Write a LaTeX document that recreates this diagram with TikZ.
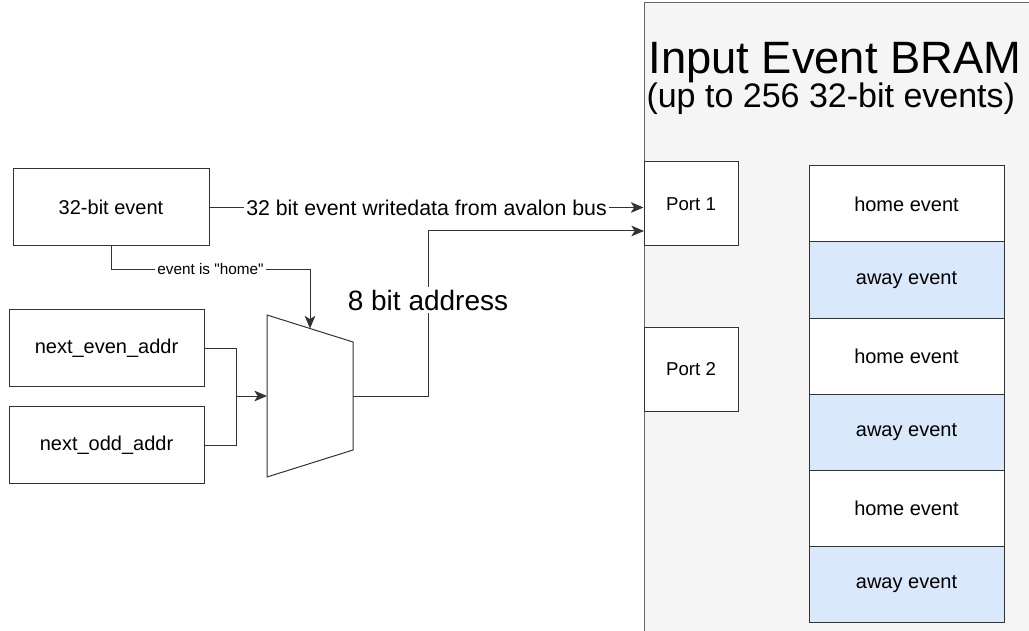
\documentclass[tikz,border=0pt]{standalone}
\usepackage{fontspec}
\setmainfont{Liberation Sans}[Ligatures=TeXOff]
\usetikzlibrary{arrows.meta}

\definecolor{edgegray}{HTML}{333333}
\definecolor{bramfill}{HTML}{F5F5F5}
\definecolor{bramline}{HTML}{666666}
\definecolor{awayfill}{HTML}{DAE8FC}

\tikzset{every picture/.style={line width=0.75pt}}
\tikzset{
  blockbox/.style={draw=edgegray, fill=white, inner sep=0pt, minimum width=146.25pt, minimum height=58pt, font=\fontsize{15}{18}\selectfont},
  portbox/.style={draw=edgegray, fill=white, inner sep=0pt, minimum width=70.5pt, minimum height=63pt, font=\fontsize{14}{17}\selectfont},
  rowbox/.style={draw=edgegray, inner sep=0pt, minimum width=146.25pt, minimum height=57pt, font=\fontsize{15}{18}\selectfont},
  wire/.style={draw=edgegray},
  arrowwire/.style={draw=edgegray, -{Stealth[length=9.5pt,width=8pt,inset=2.5pt]}},
  wirelabel/.style={fill=white, inner sep=2pt}
}

\begin{document}
\begin{tikzpicture}[x=0.75pt,y=0.75pt,yscale=-1,xscale=1]
%set diagram to 1029 x 631
\clip (0,0) rectangle (1029,631);

%Shape: BRAM container
\draw [draw=bramline, fill=bramfill] (644,3) rectangle (1040,640);

% Text Node
\node [anchor=base west, inner sep=0pt, font=\fontsize{34}{40}\selectfont] (title) at (648,74) {Input Event BRAM};
% Text Node
\node [anchor=base west, inner sep=0pt, font=\fontsize{25.5}{30}\selectfont] (subtitle) at (646,108) {(up to 256 32-bit events)};

%Shape: ports
\node [portbox] (port1) at (691,204) {Port 1};
\node [portbox] (port2) at (691,369) {Port 2};

%Shape: event rows
\foreach \i/\kind/\col in {0/home/white,1/away/awayfill,2/home/white,3/away/awayfill,4/home/white,5/away/awayfill}
  \node [rowbox, fill=\col] (row\i) at (906.5,{204+76*\i}) {\kind\ event};

%Shape: inputs
\node [blockbox, minimum width=147pt, minimum height=57.75pt] (event) at (111,207.5) {32-bit event};
\node [blockbox] (evenaddr) at (106.5,348) {next\_even\_addr};
\node [blockbox] (oddaddr) at (106.5,445) {next\_odd\_addr};

%Shape: mux
\draw [wire] (267,315) -- (353,342) -- (353,450) -- (267,477) -- cycle;
\coordinate (muxin) at (267,396);
\coordinate (muxout) at (353,396);
\coordinate (muxsel) at (310,328.5);
\coordinate (join) at (236,396);
\coordinate (addrbend) at (428,231);
\coordinate (addrin) at (644,231);

%Straight Lines
\draw [arrowwire] (event.east) -- node [wirelabel, font=\fontsize{16}{19}\selectfont] {32 bit event writedata from avalon bus} (event.east -| port1.west);
%Straight Lines
\draw [arrowwire] (event.south) -- ++(0,23) -| node [pos=0.25, wirelabel, font=\fontsize{11.5}{14}\selectfont] {event is "home"} (muxsel);
%Straight Lines
\draw [wire] (evenaddr.east) -| (join);
\draw [wire] (oddaddr.east) -| (join);
\draw [arrowwire] (join) -- (muxin);
%Straight Lines
\draw [arrowwire] (muxout) -| node [pos=0.79, wirelabel, font=\fontsize{21}{25}\selectfont] {8 bit address} (addrbend) -- (addrin);

\end{tikzpicture}
\end{document}
